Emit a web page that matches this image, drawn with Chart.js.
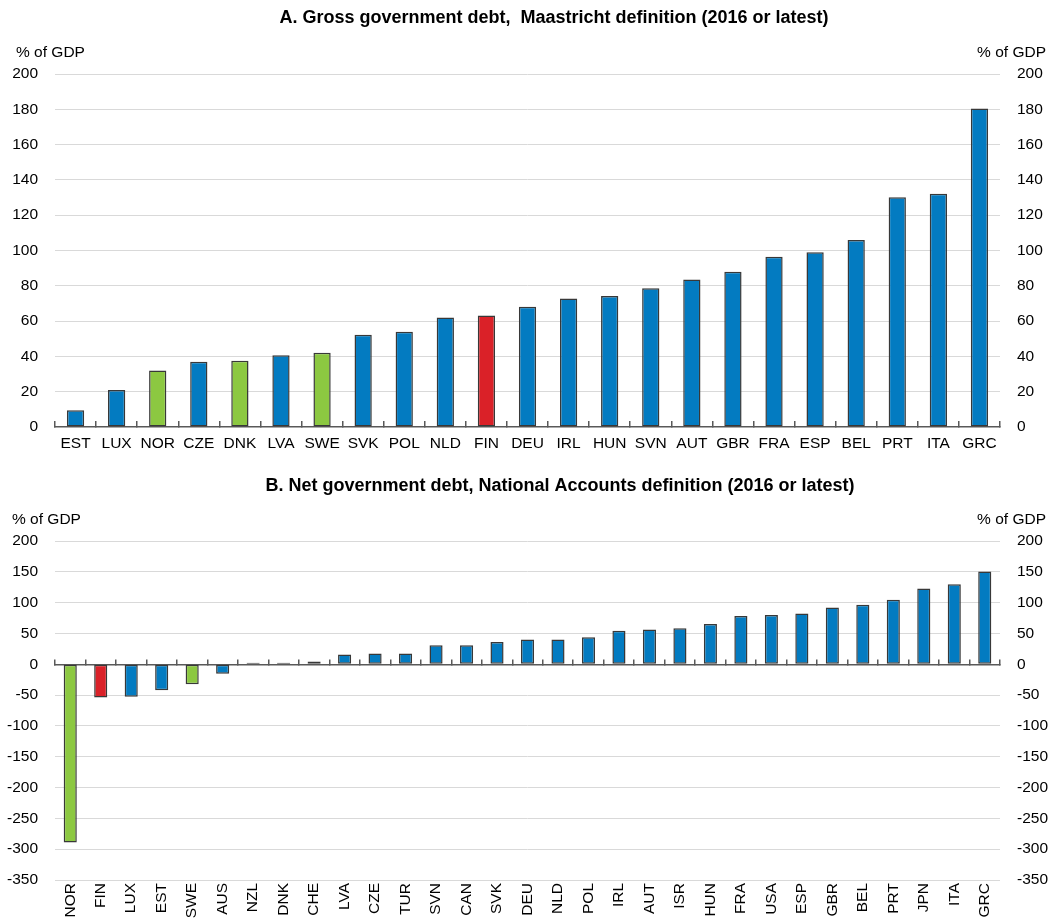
<!DOCTYPE html>
<html>
<head>
<meta charset="utf-8">
<script src="https://cdn.jsdelivr.net/npm/chart.js@4"></script>
<style>
  html, body { margin: 0; padding: 0; background: #fff; }
  .box { position: absolute; left: 0; width: 1060px; height: 460px; }
  #top { top: 0; }
  #bottom { top: 460px; }
</style>
</head>
<body>
<div class="box" id="top"><canvas id="grossChart" width="1060" height="460"></canvas></div>
<div class="box" id="bottom"><canvas id="netChart" width="1060" height="460"></canvas></div>
<script>
'use strict';

var grossCountries = ['EST', 'LUX', 'NOR', 'CZE', 'DNK', 'LVA', 'SWE', 'SVK', 'POL', 'NLD', 'FIN', 'DEU',
    'IRL', 'HUN', 'SVN', 'AUT', 'GBR', 'FRA', 'ESP', 'BEL', 'PRT', 'ITA', 'GRC'];
var grossDebt = [9.5, 21, 32, 37, 37.6, 40.6, 42, 52.3, 54, 62, 63.2, 68.2,
    72.8, 74.2, 78.6, 83.6, 88, 96.5, 99, 106, 130.2, 132.2, 180.4];
var grossTicks = [0, 200, 20];

var netCountries = ['NOR', 'FIN', 'LUX', 'EST', 'SWE', 'AUS', 'NZL', 'DNK', 'CHE', 'LVA', 'CZE', 'TUR',
    'SVN', 'CAN', 'SVK', 'DEU', 'NLD', 'POL', 'IRL', 'AUT', 'ISR', 'HUN', 'FRA', 'USA', 'ESP', 'GBR',
    'BEL', 'PRT', 'JPN', 'ITA', 'GRC'];
var netDebt = [-289, -54, -52.5, -42, -32.5, -15.5, 2.5, 2.5, 4.5, 16, 17.5, 17.5,
    31, 31, 36, 40, 40, 44, 54.5, 56.5, 58.5, 65.5, 78.5, 80, 82.5, 92,
    96.5, 104.5, 123, 130, 150.5];
var netTicks = [-350, 200, 50];

var nordic = ['NOR', 'DNK', 'SWE'];
var blue = '#037BC1';
var green = '#8CC841';
var red = '#DA2128';
var FONT = '"Liberation Sans", Arial, sans-serif';

function barColour(code) {
    if (code === 'FIN') return red;
    if (nordic.indexOf(code) >= 0) return green;
    return blue;
}

// title and "% of GDP" labels, placed round the chart area
var headerPlugin = {
    id: 'header',
    afterDraw: function (chart, args, opts) {
        var ctx = chart.ctx;
        var area = chart.chartArea;
        ctx.save();
        ctx.fillStyle = '#000';
        ctx.textBaseline = 'middle';
        ctx.font = 'bold 18px ' + FONT;
        ctx.textAlign = 'center';
        ctx.fillText(opts.title, opts.titleX, opts.titleY);
        ctx.font = '15.5px ' + FONT;
        ctx.textAlign = 'left';
        ctx.fillText('% of GDP', opts.unitLeft, area.top - 21);
        ctx.textAlign = 'right';
        ctx.fillText('% of GDP', 1046, area.top - 21);
        ctx.restore();
    }
};

function yAxis(range, side) {
    return {
        type: 'linear',
        position: side,
        min: range[0],
        max: range[1],
        afterFit: function (s) { s.width = side === 'left' ? 55 : 60; },
        border: { display: false },
        grid: {
            drawOnChartArea: side === 'left',
            drawTicks: false,
            color: function (c) { return c.tick && c.tick.value === 0 ? 'rgba(0,0,0,0)' : '#d9d9d9'; },
            lineWidth: 1
        },
        ticks: {
            stepSize: range[2],
            padding: 17,
            color: '#000',
            font: { family: FONT, size: 15.5 }
        }
    };
}

function generateGrossChart(canvas) {
    return new Chart(canvas, {
        type: 'bar',
        data: {
            labels: grossCountries,
            datasets: [{
                data: grossDebt,
                backgroundColor: grossCountries.map(barColour),
                borderColor: '#383838',
                borderWidth: 1.5,
                borderSkipped: false,
                categoryPercentage: 1,
                barPercentage: 0.42
            }]
        },
        options: {
            responsive: false,
            animation: false,
            layout: { padding: { top: 74, left: 0, right: 0, bottom: 0 } },
            plugins: {
                legend: { display: false },
                tooltip: { enabled: false },
                header: {
                    title: 'A. Gross government debt,  Maastricht definition (2016 or latest)',
                    titleX: 554, titleY: 18, unitLeft: 16
                }
            },
            scales: {
                x: {
                    type: 'category',
                    offset: true,
                    afterFit: function (s) { s.height = 33; },
                    border: { display: true, color: '#595959', width: 1.5 },
                    grid: { offset: true, drawOnChartArea: false, tickLength: -6, color: '#595959', lineWidth: 1.5 },
                    ticks: { padding: 13, color: '#000', maxRotation: 0, autoSkip: false, font: { family: FONT, size: 15.5 } }
                },
                y: yAxis(grossTicks, 'left'),
                y2: yAxis(grossTicks, 'right')
            }
        },
        plugins: [headerPlugin]
    });
}

function generateNetChart(canvas) {
    return new Chart(canvas, {
        type: 'bar',
        data: {
            labels: netCountries,
            datasets: [{
                data: netDebt,
                backgroundColor: netCountries.map(barColour),
                borderColor: '#383838',
                borderWidth: 1.5,
                borderSkipped: false,
                categoryPercentage: 1,
                barPercentage: 0.43
            }]
        },
        options: {
            responsive: false,
            animation: false,
            layout: { padding: { top: 81, left: 0, right: 0, bottom: 0 } },
            plugins: {
                legend: { display: false },
                tooltip: { enabled: false },
                header: {
                    title: 'B. Net government debt, National Accounts definition (2016 or latest)',
                    titleX: 560, titleY: 26, unitLeft: 12
                }
            },
            scales: {
                x: {
                    type: 'category',
                    offset: true,
                    afterFit: function (s) { s.height = 40; },
                    border: { display: false },
                    grid: { display: false, drawTicks: false },
                    ticks: { padding: 3, color: '#000', minRotation: 90, maxRotation: 90, autoSkip: false, font: { family: FONT, size: 15.5 } }
                },
                // zero line with its little category ticks
                x0: {
                    type: 'category',
                    axis: 'x',
                    position: { y: 0 },
                    offset: true,
                    border: { display: true, color: '#595959', width: 1.5 },
                    grid: { offset: true, drawOnChartArea: false, tickLength: -6, color: '#595959', lineWidth: 1.5 },
                    ticks: { display: false }
                },
                y: yAxis(netTicks, 'left'),
                y2: yAxis(netTicks, 'right')
            }
        },
        plugins: [headerPlugin]
    });
}

generateGrossChart(document.getElementById('grossChart'));
generateNetChart(document.getElementById('netChart'));
</script>
</body>
</html>
